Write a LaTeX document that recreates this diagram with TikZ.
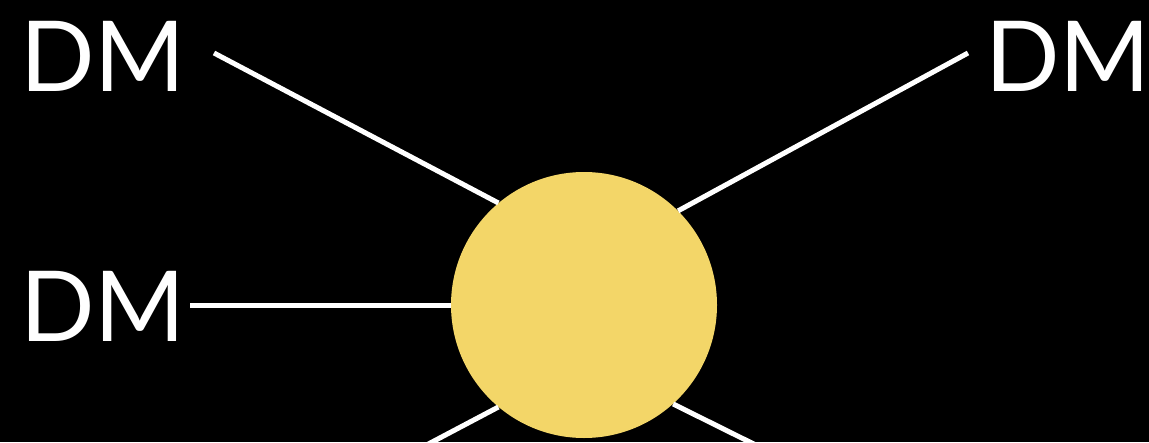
\documentclass[tikz,border=0pt]{standalone}
\usepackage{fontspec}
\setmainfont{Lato}
\usetikzlibrary{positioning,calc}
\definecolor{sunyellow}{RGB}{243,214,104}
\tikzset{
  dmlabel/.style={text=white, font=\fontsize{98}{98}\selectfont, inner sep=0pt, anchor=base west},
  leg/.style={draw=white, line width=5pt}
}
\begin{document}
\begin{tikzpicture}[x=1pt,y=-1pt]
\fill[black] (0,0) rectangle (1149,442);
\useasboundingbox (0,0) rectangle (1149,442);

% Circle
\node[circle, fill=sunyellow, minimum size=266pt, inner sep=0pt] (sun) at (584,305) {};

% Labels
\node[dmlabel] (dmtl) at (20,91) {DM};
\node[dmlabel] (dmtr) at (985,91) {DM};
\node[dmlabel] (dml) at (20,341) {DM};

% Line ends
\coordinate (tl) at (214,53);
\coordinate (tr) at (968,53);
\coordinate (ml) at (190,305);
\coordinate (bl) at (400,459);
\coordinate (br) at (790,462);

% Lines
\begin{scope}
\clip (0,0) rectangle (1149,442);
\draw[leg] (tl) -- (sun.130.7);
\draw[leg] (tr) -- (sun.45.6);
\draw[leg] (ml) -- (sun.west);
\draw[leg] (bl) -- (sun.230);
\draw[leg] (br) -- (sun.312);
\end{scope}
\end{tikzpicture}
\end{document}
